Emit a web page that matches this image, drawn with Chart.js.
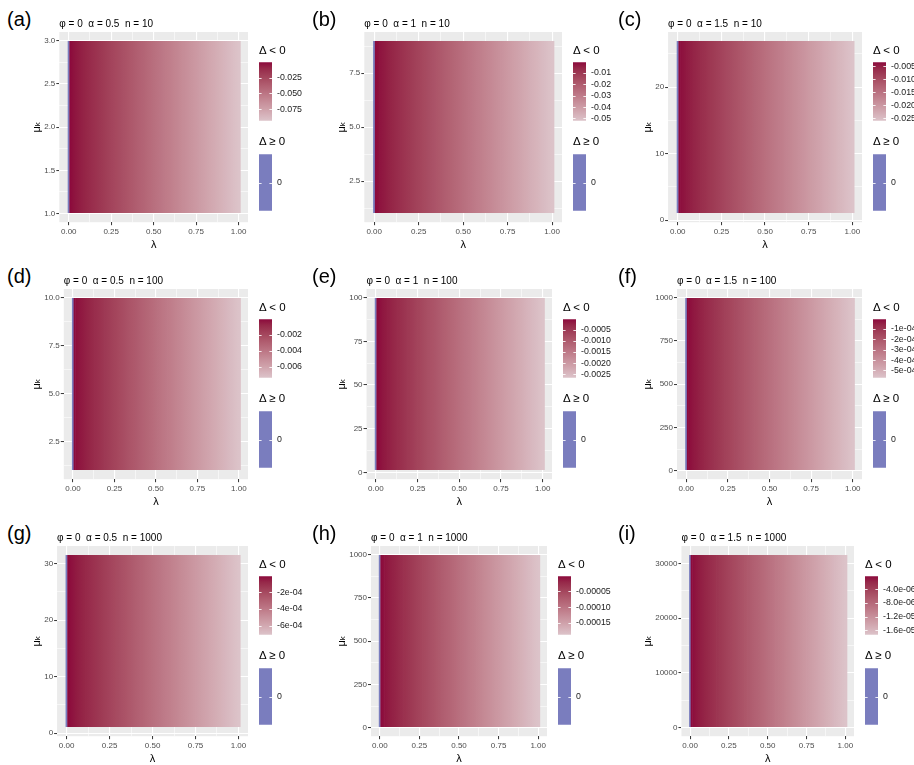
<!DOCTYPE html>
<html>
<head>
<meta charset="utf-8">
<script src="https://cdn.jsdelivr.net/npm/chart.js@4.4.1/dist/chart.umd.min.js"></script>
<style>
body{margin:0;background:#fff;width:914px;height:765px;overflow:hidden;position:relative;font-family:"Liberation Sans",Arial,"DejaVu Sans",sans-serif}
canvas{position:absolute}
.tag{position:absolute;font-size:20px;line-height:1;color:#000}
.ltitle{position:absolute;font-size:11.5px;line-height:1;white-space:nowrap;color:#000}
</style>
</head>
<body>
<script>
// panel data
const panelTags = ['(a)','(b)','(c)','(d)','(e)','(f)','(g)','(h)','(i)'];
const titles = [
  'φ = 0  α = 0.5  n = 10', 'φ = 0  α = 1  n = 10', 'φ = 0  α = 1.5  n = 10',
  'φ = 0  α = 0.5  n = 100', 'φ = 0  α = 1  n = 100', 'φ = 0  α = 1.5  n = 100',
  'φ = 0  α = 0.5  n = 1000', 'φ = 0  α = 1  n = 1000', 'φ = 0  α = 1.5  n = 1000'
];

const lambda = [0, 0.01, 0.02, 0.04, 0.06, 0.08, 0.10, 0.12, 0.14, 0.16, 0.18, 0.20, 0.22, 0.24, 0.26, 0.28, 0.30,
  0.32, 0.34, 0.36, 0.38, 0.40, 0.42, 0.44, 0.46, 0.48, 0.50, 0.52, 0.54, 0.56, 0.58, 0.60, 0.62, 0.64, 0.66,
  0.68, 0.70, 0.72, 0.74, 0.76, 0.78, 0.80, 0.82, 0.84, 0.86, 0.88, 0.90, 0.92, 0.94, 0.96, 0.98, 1.00];

// mu_k range covered by the tiles
const muMin = [1, 1, 1, 1, 1, 1, 1, 1, 1];
const muMax = [3, 9, 27, 10, 100, 1000, 31.6, 1000, 31623];

// Delta per lambda column, in units of deltaUnit
const deltaUnit = [1e-3, 1e-3, 1e-3, 1e-4, 1e-4, 1e-5, 1e-5, 1e-5, 1e-6];
const deltaA = [0, -0.9, -1.9, -3.7, -5.6, -7.4, -9.3, -11.2, -13, -14.9, -16.7, -18.6, -20.5, -22.3, -24.2, -26, -27.9,
  -29.8, -31.6, -33.5, -35.3, -37.2, -39.1, -40.9, -42.8, -44.6, -46.5, -48.4, -50.2, -52.1, -53.9, -55.8, -57.7,
  -59.5, -61.4, -63.2, -65.1, -67, -68.8, -70.7, -72.5, -74.4, -76.3, -78.1, -80, -81.8, -83.7, -85.6, -87.4, -89.3, -91.1, -93];
const deltaB = [0, -0.5, -1, -2.1, -3.1, -4.2, -5.2, -6.2, -7.3, -8.3, -9.4, -10.4, -11.4, -12.5, -13.5, -14.6, -15.6,
  -16.6, -17.7, -18.7, -19.8, -20.8, -21.8, -22.9, -23.9, -25, -26, -27, -28.1, -29.1, -30.2, -31.2, -32.2,
  -33.3, -34.3, -35.4, -36.4, -37.4, -38.5, -39.5, -40.6, -41.6, -42.6, -43.7, -44.7, -45.8, -46.8, -47.8, -48.9, -49.9, -51, -52];
const deltaC = [0, -3.5, -3.8, -4.2, -4.7, -5.1, -5.6, -6.0, -6.5, -6.9, -7.4, -7.8, -8.3, -8.7, -9.2, -9.7, -10.1,
  -10.6, -11.0, -11.5, -11.9, -12.4, -12.8, -13.3, -13.7, -14.2, -14.7, -15.1, -15.6, -16.0, -16.5, -16.9, -17.4,
  -17.8, -18.3, -18.7, -19.2, -19.6, -20.1, -20.6, -21.0, -21.5, -21.9, -22.4, -22.8, -23.3, -23.7, -24.2, -24.6, -25.1, -25.5, -26.0];
const deltaD = [0, -0.7, -1.5, -3, -4.4, -5.9, -7.4, -8.9, -10.4, -11.8, -13.3, -14.8, -16.3, -17.8, -19.2, -20.7, -22.2,
  -23.7, -25.2, -26.6, -28.1, -29.6, -31.1, -32.6, -34, -35.5, -37, -38.5, -40, -41.4, -42.9, -44.4, -45.9,
  -47.4, -48.8, -50.3, -51.8, -53.3, -54.8, -56.2, -57.7, -59.2, -60.7, -62.2, -63.6, -65.1, -66.6, -68.1, -69.6, -71, -72.5, -74];
const deltaE = [0, -0.3, -0.5, -1.1, -1.6, -2.1, -2.7, -3.2, -3.7, -4.2, -4.8, -5.3, -5.8, -6.4, -6.9, -7.4, -8,
  -8.5, -9, -9.5, -10.1, -10.6, -11.1, -11.7, -12.2, -12.7, -13.3, -13.8, -14.3, -14.8, -15.4, -15.9, -16.4,
  -17, -17.5, -18, -18.6, -19.1, -19.6, -20.1, -20.7, -21.2, -21.7, -22.3, -22.8, -23.3, -23.9, -24.4, -24.9, -25.4, -26, -26.5];
const deltaF = [0, -0.6, -1.1, -2.3, -3.4, -4.6, -5.7, -6.8, -8, -9.1, -10.3, -11.4, -12.5, -13.7, -14.8, -16, -17.1,
  -18.2, -19.4, -20.5, -21.7, -22.8, -23.9, -25.1, -26.2, -27.4, -28.5, -29.6, -30.8, -31.9, -33.1, -34.2, -35.3,
  -36.5, -37.6, -38.8, -39.9, -41, -42.2, -43.3, -44.5, -45.6, -46.7, -47.9, -49, -50.2, -51.3, -52.4, -53.6, -54.7, -55.9, -57];
const deltaG = [0, -0.7, -1.4, -2.8, -4.3, -5.7, -7.1, -8.5, -9.9, -11.4, -12.8, -14.2, -15.6, -17, -18.5, -19.9, -21.3,
  -22.7, -24.1, -25.6, -27, -28.4, -29.8, -31.2, -32.7, -34.1, -35.5, -36.9, -38.3, -39.8, -41.2, -42.6, -44,
  -45.4, -46.9, -48.3, -49.7, -51.1, -52.5, -54, -55.4, -56.8, -58.2, -59.6, -61.1, -62.5, -63.9, -65.3, -66.7, -68.2, -69.6, -71];
const deltaH = [0, -0.19, -0.38, -0.75, -1.13, -1.5, -1.88, -2.26, -2.63, -3.01, -3.38, -3.76, -4.14, -4.51, -4.89, -5.26, -5.64,
  -6.02, -6.39, -6.77, -7.14, -7.52, -7.9, -8.27, -8.65, -9.02, -9.4, -9.78, -10.15, -10.53, -10.9, -11.28, -11.66,
  -12.03, -12.41, -12.78, -13.16, -13.54, -13.91, -14.29, -14.66, -15.04, -15.42, -15.79, -16.17, -16.54, -16.92, -17.3, -17.67, -18.05, -18.42, -18.8];
const deltaI = [0, -0.17, -0.35, -0.69, -1.04, -1.38, -1.73, -2.08, -2.42, -2.77, -3.11, -3.46, -3.81, -4.15, -4.5, -4.84, -5.19,
  -5.54, -5.88, -6.23, -6.57, -6.92, -7.27, -7.61, -7.96, -8.3, -8.65, -9, -9.34, -9.69, -10.03, -10.38, -10.73,
  -11.07, -11.42, -11.76, -12.11, -12.46, -12.8, -13.15, -13.49, -13.84, -14.19, -14.53, -14.88, -15.22, -15.57, -15.92, -16.26, -16.61, -16.95, -17.3];
const deltas = [deltaA, deltaB, deltaC, deltaD, deltaE, deltaF, deltaG, deltaH, deltaI];

// tick labels
const xTicks = [0, 0.25, 0.5, 0.75, 1];
const xLabels = ['0.00', '0.25', '0.50', '0.75', '1.00'];
const yTicks = [[1, 1.5, 2, 2.5, 3], [2.5, 5, 7.5], [0, 10, 20], [2.5, 5, 7.5, 10], [0, 25, 50, 75, 100],
  [0, 250, 500, 750, 1000], [0, 10, 20, 30], [0, 250, 500, 750, 1000], [0, 10000, 20000, 30000]];
const yLabels = [['1.0', '1.5', '2.0', '2.5', '3.0'], ['2.5', '5.0', '7.5'], ['0', '10', '20'], ['2.5', '5.0', '7.5', '10.0'],
  ['0', '25', '50', '75', '100'], ['0', '250', '500', '750', '1000'], ['0', '10', '20', '30'],
  ['0', '250', '500', '750', '1000'], ['0', '10000', '20000', '30000']];
const legTicks = [[-0.025, -0.05, -0.075], [-0.01, -0.02, -0.03, -0.04, -0.05], [-0.005, -0.01, -0.015, -0.02, -0.025],
  [-0.002, -0.004, -0.006], [-0.0005, -0.001, -0.0015, -0.002, -0.0025], [-1e-4, -2e-4, -3e-4, -4e-4, -5e-4],
  [-2e-4, -4e-4, -6e-4], [-5e-5, -1e-4, -1.5e-4], [-4e-6, -8e-6, -1.2e-5, -1.6e-5]];
const legLabels = [['-0.025', '-0.050', '-0.075'], ['-0.01', '-0.02', '-0.03', '-0.04', '-0.05'],
  ['-0.005', '-0.010', '-0.015', '-0.020', '-0.025'], ['-0.002', '-0.004', '-0.006'],
  ['-0.0005', '-0.0010', '-0.0015', '-0.0020', '-0.0025'], ['-1e-04', '-2e-04', '-3e-04', '-4e-04', '-5e-04'],
  ['-2e-04', '-4e-04', '-6e-04'], ['-0.00005', '-0.00010', '-0.00015'], ['-4.0e-06', '-8.0e-06', '-1.2e-05', '-1.6e-05']];

const darkCol = '#8C0A3C', lightCol = '#DCC3C9', blueCol = '#7A7DBE';
const FONT = '"Liberation Sans", Arial, "DejaVu Sans", sans-serif';
Chart.defaults.font.family = FONT;

// Lab interpolation like ggplot's gradient
function lin(c) { c /= 255; return c <= 0.04045 ? c / 12.92 : Math.pow((c + 0.055) / 1.055, 2.4); }
function unlin(c) { c = c <= 0.0031308 ? 12.92 * c : 1.055 * Math.pow(c, 1 / 2.4) - 0.055; return Math.round(Math.max(0, Math.min(1, c)) * 255); }
function toLab(hex) {
  const n = parseInt(hex.slice(1), 16);
  const r = lin(n >> 16 & 255), g = lin(n >> 8 & 255), b = lin(n & 255);
  const x = (0.4124 * r + 0.3576 * g + 0.1805 * b) / 0.95047, y = 0.2126 * r + 0.7152 * g + 0.0722 * b, z = (0.0193 * r + 0.1192 * g + 0.9505 * b) / 1.08883;
  const f = t => t > 0.008856 ? Math.cbrt(t) : 7.787 * t + 16 / 116;
  return [116 * f(y) - 16, 500 * (f(x) - f(y)), 200 * (f(y) - f(z))];
}
function fromLab([L, a, bb]) {
  const fy = (L + 16) / 116, fx = fy + a / 500, fz = fy - bb / 200;
  const inv = t => t ** 3 > 0.008856 ? t ** 3 : (t - 16 / 116) / 7.787;
  const x = inv(fx) * 0.95047, y = inv(fy), z = inv(fz) * 1.08883;
  const r = 3.2406 * x - 1.5372 * y - 0.4986 * z, g = -0.9689 * x + 1.8758 * y + 0.0415 * z, b = 0.0557 * x - 0.2040 * y + 1.0570 * z;
  return `rgb(${unlin(r)},${unlin(g)},${unlin(b)})`;
}
const labDark = toLab(darkCol), labLight = toLab(lightCol);
const mix = t => fromLab(labLight.map((v, k) => v + (labDark[k] - v) * t));

const bgPlugin = {
  id: 'panelBg',
  beforeDraw(chart) {
    const { ctx, chartArea: a } = chart;
    ctx.save(); ctx.fillStyle = '#EBEBEB'; ctx.fillRect(a.left, a.top, a.right - a.left, a.bottom - a.top); ctx.restore();
  },
  // keep the tile block on whole pixel rows so overlapping tiles don't leave a dotted edge
  beforeDatasetsDraw(chart, args, opts) {
    const { ctx, chartArea: a, scales: { y } } = chart;
    const top = Math.ceil(y.getPixelForValue(opts.hi)), bottom = Math.floor(y.getPixelForValue(opts.lo));
    ctx.save(); ctx.beginPath(); ctx.rect(a.left, top, a.right - a.left, bottom - top); ctx.clip();
  },
  afterDatasetsDraw(chart) { chart.ctx.restore(); }
};
const dashPlugin = {
  id: 'dashes',
  afterDatasetsDraw(chart) {
    const { ctx, chartArea: a, scales: { y } } = chart;
    ctx.save(); ctx.strokeStyle = 'rgba(255,255,255,0.85)'; ctx.lineWidth = 1;
    y.ticks.forEach(t => {
      const py = Math.round(y.getPixelForValue(t.value)) + 0.5;
      ctx.beginPath(); ctx.moveTo(a.left, py); ctx.lineTo(a.left + 2.6, py);
      ctx.moveTo(a.right - 2.6, py); ctx.lineTo(a.right, py); ctx.stroke();
    });
    ctx.restore();
  }
};

function withMinor(ticks, lo, hi) {
  const out = ticks.slice(), step = ticks[1] - ticks[0];
  for (let k = -1; k < ticks.length; k++) {
    const m = ticks[0] + (k + 0.5) * step;
    if (m > lo && m < hi) out.push(m);
  }
  return out;
}

function addCanvas(left, top, w, h) {
  const c = document.createElement('canvas');
  c.width = w; c.height = h; c.style.left = left + 'px'; c.style.top = top + 'px';
  document.body.appendChild(c);
  return c;
}
function addText(cls, text, left, top) {
  const d = document.createElement('div');
  d.className = cls; d.textContent = text; d.style.left = left + 'px'; d.style.top = top + 'px';
  document.body.appendChild(d);
}

function legendBar(canvas, lo, hi, ticks, labels, fill) {
  const cw = canvas.width;
  new Chart(canvas, {
    type: 'bar',
    data: { labels: [''], datasets: [{ data: [[lo, hi]], backgroundColor: fill, barPercentage: 1, categoryPercentage: 1, borderWidth: 0 }] },
    options: {
      responsive: false, animation: false,
      layout: { padding: { top: 8, bottom: 8, left: 0, right: 0 } },
      plugins: { legend: { display: false }, tooltip: { enabled: false } },
      scales: {
        x: { display: false },
        y: {
          position: 'right', min: lo, max: hi,
          afterFit: s => { s.width = cw - 13; },
          afterBuildTicks: s => { s.ticks = ticks.map(v => ({ value: v })); },
          ticks: { autoSkip: false, padding: 5, color: '#1a1a1a', font: { size: 8.8 }, callback: (v, k) => labels[k] },
          grid: { display: false, drawTicks: false },
          border: { display: false }
        }
      }
    },
    plugins: [dashPlugin]
  });
}

const colLeft = [0, 305, 611], colRight = [302, 611, 916], rowTop = [0, 257, 514];
const meas = document.createElement('canvas').getContext('2d');
meas.font = '8.8px ' + FONT;

panelTags.forEach((tag, i) => {
  const L = colLeft[i % 3], R = colRight[i % 3], T = rowTop[Math.floor(i / 3)];
  const d = deltas[i].map(v => v * deltaUnit[i]);
  const neg = d.filter(v => v < 0);
  const lo = Math.min(...neg), hi = Math.max(...neg);

  const lw = Math.max(...legLabels[i].map(s => meas.measureText(s).width));
  const legW = Math.ceil(13 + 5 + lw + 4);
  const legLeft = Math.round(R - (13 + 5 + lw));
  const plotRight = legLeft - 11;

  addText('tag', tag, L + 7, T + 9);

  // heat map
  const span = muMax[i] - muMin[i];
  const yMin = muMin[i] - 0.05 * span, yMax = muMax[i] + 0.05 * span;
  const yAll = withMinor(yTicks[i], yMin, yMax);
  const xAll = withMinor(xTicks, -0.0555, 1.0555);
  const yMajor = v => yTicks[i].includes(v), xMajor = v => xTicks.includes(v);
  const heatColors = d.map(v => v >= 0 ? blueCol : mix((v - lo) / (hi - lo)));
  // each tile is shaded from its neighbours' colours so the columns read as one smooth raster
  const tileFill = c => {
    const k = c.dataIndex;
    if (k === 0) return blueCol;
    const xs = c.chart.scales.x;
    if (!xs || !c.chart.chartArea) return heatColors[k];
    const p = j => xs.getPixelForValue(lambda[j]);
    const a = k > 1 ? k - 1 : k, b = k < lambda.length - 1 ? k + 1 : k;
    const x0 = p(a), x1 = p(b);
    if (x1 <= x0) return heatColors[k];
    const g = c.chart.ctx.createLinearGradient(x0, 0, x1, 0);
    g.addColorStop(0, heatColors[a]);
    g.addColorStop((p(k) - x0) / (x1 - x0), heatColors[k]);
    g.addColorStop(1, heatColors[b]);
    return g;
  };
  const main = addCanvas(L, T + 9, plotRight - L + 12, 245);
  new Chart(main, {
    type: 'bar',
    data: {
      datasets: [{
        data: lambda.map(l => ({ x: l, y: [muMin[i], muMax[i]] })),
        backgroundColor: tileFill, borderWidth: 0, inflateAmount: 0,
        barThickness: 'flex', barPercentage: 1.25, categoryPercentage: 1
      }]
    },
    options: {
      responsive: false, animation: false,
      layout: { padding: { left: 28, right: 12, top: 0, bottom: 2 } },
      plugins: {
        legend: { display: false }, tooltip: { enabled: false },
        panelBg: { lo: muMin[i], hi: muMax[i] },
        title: { display: true, text: titles[i], align: 'start', fullSize: false, color: '#000', font: { size: 10, weight: 'normal' }, padding: { top: 9, bottom: 2 } }
      },
      scales: {
        x: {
          type: 'linear', offset: false, min: -0.0555, max: 1.0555,
          afterBuildTicks: s => { s.ticks = xAll.map(v => ({ value: v })); },
          ticks: { autoSkip: false, maxRotation: 0, padding: 2, color: '#4D4D4D', font: { size: 8 }, callback: v => xMajor(v) ? xLabels[xTicks.indexOf(v)] : '' },
          grid: { offset: false, color: '#fff', lineWidth: c => c.tick && xMajor(c.tick.value) ? 1.1 : 0.55, tickLength: 3, tickWidth: 1,
            tickColor: c => c.tick && xMajor(c.tick.value) ? '#333' : 'rgba(0,0,0,0)' },
          border: { display: false },
          title: { display: true, text: 'λ', color: '#000', font: { size: 11 }, padding: { top: 0, bottom: 0 } }
        },
        y: {
          min: yMin, max: yMax,
          afterBuildTicks: s => { s.ticks = yAll.map(v => ({ value: v })); },
          ticks: { autoSkip: false, padding: 1, color: '#4D4D4D', font: { size: 8 }, callback: v => yMajor(v) ? yLabels[i][yTicks[i].indexOf(v)] : '' },
          grid: { color: '#fff', lineWidth: c => c.tick && yMajor(c.tick.value) ? 1.1 : 0.55, tickLength: 3, tickWidth: 1,
            tickColor: c => c.tick && yMajor(c.tick.value) ? '#333' : 'rgba(0,0,0,0)' },
          border: { display: false },
          title: { display: true, text: 'μₖ', color: '#000', font: { size: 11 }, padding: { top: 2, bottom: 0 } }
        }
      }
    },
    plugins: [bgPlugin]
  });

  // legends
  addText('ltitle', 'Δ < 0', legLeft, T + 45);
  const cb = addCanvas(legLeft, T + 52, legW, 79);
  legendBar(cb, lo, hi, legTicks[i], legLabels[i], c => {
    const a = c.chart.chartArea;
    if (!a) return darkCol;
    const g = c.chart.ctx.createLinearGradient(0, a.top, 0, a.bottom);
    for (let s = 0; s <= 10; s++) g.addColorStop(s / 10, mix(1 - s / 10));
    return g;
  });
  addText('ltitle', 'Δ ≥ 0', legLeft, T + 136);
  const pb = addCanvas(legLeft, T + 144, legW, 77);
  legendBar(pb, -1, 1, [0], ['0'], blueCol);
});
</script>
</body>
</html>
